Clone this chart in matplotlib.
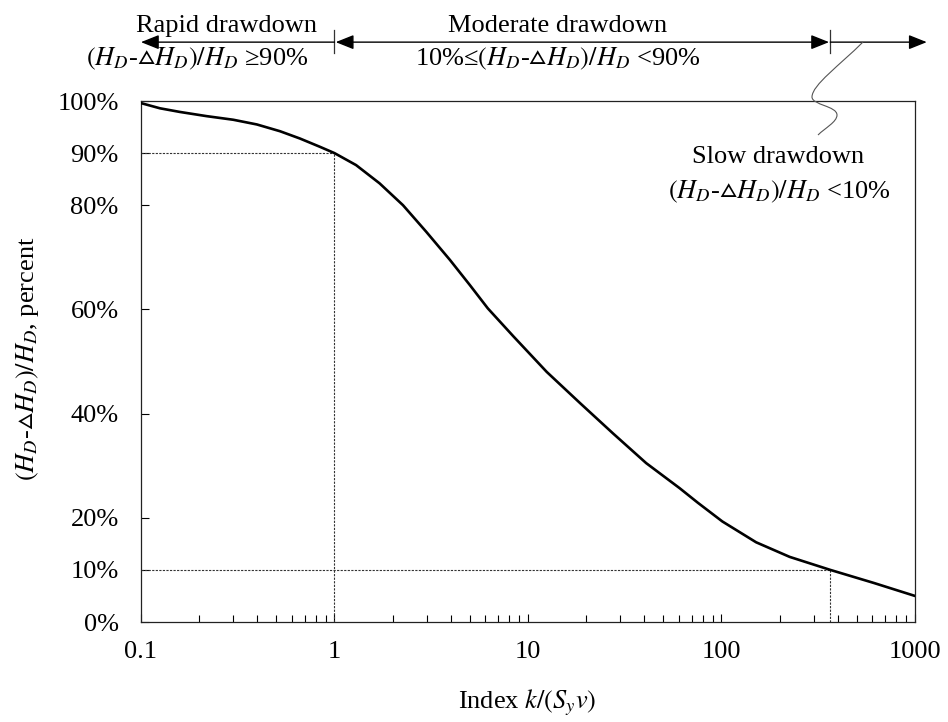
import matplotlib
matplotlib.use('Agg')
import matplotlib.pyplot as plt
import matplotlib.transforms as mtransforms
from matplotlib.path import Path
from matplotlib.patches import PathPatch

plt.rcParams['font.family'] = ['Liberation Serif', 'STIXGeneral']
plt.rcParams['mathtext.fontset'] = 'stix'

# Index k/(Sy v) and remaining head ratio (percent)
index = [0.1, 0.1254, 0.159, 0.218, 0.300, 0.397, 0.523, 0.663, 0.842, 1.0,
         1.293, 1.71, 2.26, 2.98, 3.95, 5.0, 6.2, 8.42, 12.5, 18.6, 27.5,
         40.8, 60.7, 75.4, 101, 151, 225, 365, 612, 1000]
ratio = [99.6, 98.6, 97.9, 97.1, 96.4, 95.5, 94.2, 92.8, 91.2, 90.0,
         87.7, 84.2, 80.0, 74.9, 69.5, 64.7, 60.2, 54.8, 48.0, 42.0, 36.2,
         30.5, 25.7, 22.9, 19.3, 15.3, 12.5, 10.0, 7.5, 5.0]

# limits of the three drawdown classes
rapid_limit = 1.0
slow_limit = 365
y_ticks = [0, 10, 20, 40, 60, 80, 90, 100]
x_ticks = [0.1, 1, 10, 100, 1000]
x_tick_labels = ['0.1', '1', '10', '100', '1000']

fig = plt.figure(figsize=(9.48, 7.22), dpi=100)
ax = fig.add_axes([0.1487, 0.1385, 0.8165, 0.7216])

ax.plot(index, ratio, color='black', lw=1.9, solid_capstyle='round',
        solid_joinstyle='round', zorder=3)

# guide lines at 90% and 10%
dot = dict(color='#333333', lw=0.8, linestyle=(0, (2, 1.2)), zorder=2)
ax.plot([0.1, rapid_limit], [90, 90], **dot)
ax.plot([rapid_limit, rapid_limit], [0, 90], **dot)
ax.plot([0.1, slow_limit], [10, 10], **dot)
ax.plot([slow_limit, slow_limit], [0, 10], **dot)

ax.set_xscale('log')
ax.set_xlim(0.1, 1000)
ax.set_ylim(0, 100)
ax.set_xticks(x_ticks)
ax.set_xticklabels(x_tick_labels)
ax.set_yticks(y_ticks)
ax.set_yticklabels([f'{v}%' for v in y_ticks])
ax.tick_params(axis='both', which='major', direction='in', length=6,
               width=0.8, labelsize=19, top=False, right=False)
ax.tick_params(axis='y', pad=16)
ax.tick_params(axis='x', pad=14)
ax.tick_params(axis='x', which='minor', direction='in', length=5, width=0.8,
               top=False)
for s in ax.spines.values():
    s.set_linewidth(0.9)
    s.set_color('#222222')

ratio_txt = r'$(H_D$-${▵}H_D)/H_D$'
fig.text(28 / 948, 1 - 359 / 722, ratio_txt + ', percent',
         rotation=90, ha='center', va='center', fontsize=19)
fig.text(527 / 948, 1 - 703 / 722, r'Index $k/(S_y v)$',
         ha='center', va='center', fontsize=19)

# class arrows above the plot
tr = mtransforms.blended_transform_factory(ax.transData, ax.transAxes)
ya = 1.113
head = dict(lw=1.0, color='black', shrinkA=0, shrinkB=0, mutation_scale=20)
ax.annotate('', xy=(0.1, ya), xytext=(rapid_limit, ya), xycoords=tr,
            textcoords=tr, annotation_clip=False,
            arrowprops=dict(arrowstyle='-|>,head_length=0.55,head_width=0.22', **head))
ax.annotate('', xy=(slow_limit * 0.985, ya), xytext=(rapid_limit * 1.015, ya),
            xycoords=tr, textcoords=tr, annotation_clip=False,
            arrowprops=dict(arrowstyle='<|-|>,head_length=0.55,head_width=0.22', **head))
ax.annotate('', xy=(1150, ya), xytext=(slow_limit, ya), xycoords=tr,
            textcoords=tr, annotation_clip=False,
            arrowprops=dict(arrowstyle='-|>,head_length=0.55,head_width=0.22', **head))
for xv in (rapid_limit * 0.99, slow_limit):
    ax.plot([xv, xv], [1.092, 1.136], transform=tr, color='#333333', lw=0.9,
            clip_on=False)

ax.text(0.278, 1.1324, 'Rapid drawdown', transform=tr, ha='center',
        va='baseline', fontsize=19)
ax.text(0.195, 1.0691, ratio_txt + ' ≥90%', transform=tr,
        ha='center', va='baseline', fontsize=19)
ax.text(14.3, 1.1324, 'Moderate drawdown', transform=tr, ha='center',
        va='baseline', fontsize=19)
ax.text(14.2, 1.0691, '10%≤' + ratio_txt + ' <90%', transform=tr,
        ha='center', va='baseline', fontsize=19)
ax.text(195, 0.881, 'Slow drawdown', transform=tr, ha='center',
        va='baseline', fontsize=19)
ax.text(200, 0.8138, ratio_txt + ' <10%', transform=tr,
        ha='center', va='baseline', fontsize=19)

# wavy leader from the slow arrow to its label
pts = [(863, 42), (840, 65), (812, 85), (812, 97),
       (812, 105), (837, 106), (837, 115),
       (837, 122), (825, 128), (818, 135)]
codes = [Path.MOVETO] + [Path.CURVE4] * 9
verts = [(px / 948, 1 - py / 722) for px, py in pts]
fig.patches.append(PathPatch(Path(verts, codes), transform=fig.transFigure,
                             fill=False, edgecolor='#555555', lw=0.8))

fig.savefig('out.png', dpi=100)
